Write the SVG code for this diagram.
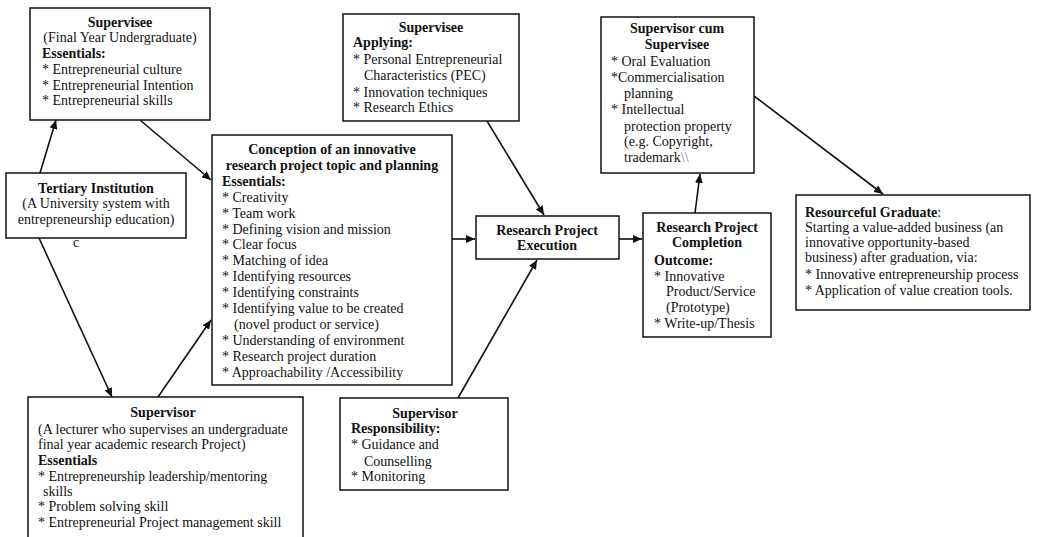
<svg xmlns="http://www.w3.org/2000/svg" width="1042" height="537" viewBox="0 0 1042 537">
<defs>
<style>
.box{fill:#fff;stroke:#111;stroke-width:1.5}
.t{font-family:"Liberation Serif","Times New Roman",serif;font-size:14px;fill:#111}
.b{font-weight:bold}
.c{text-anchor:middle}
.edge{stroke:#111;stroke-width:1.6;fill:none;marker-end:url(#ah)}
</style>
<marker id="ah" markerUnits="userSpaceOnUse" markerWidth="9" markerHeight="8" refX="9" refY="4" orient="auto">
<path d="M0,0 L9,4 L0,8 z" fill="#111"/>
</marker>
</defs>
<rect width="1042" height="537" fill="#fff"/>

<g id="connectors">
<line class="edge" x1="40" y1="173" x2="56" y2="120"/>
<line class="edge" x1="140" y1="120" x2="211" y2="180"/>
<line class="edge" x1="39" y1="238" x2="112" y2="397"/>
<line class="edge" x1="158" y1="397" x2="211" y2="320"/>
<line class="edge" x1="452" y1="239" x2="475" y2="239"/>
<line class="edge" x1="487" y1="121" x2="544" y2="215"/>
<line class="edge" x1="458" y1="398" x2="537" y2="260"/>
<line class="edge" x1="619" y1="239" x2="642" y2="239"/>
<line class="edge" x1="695" y1="213" x2="700" y2="174"/>
<line class="edge" x1="754" y1="96" x2="883" y2="194"/>
</g>

<g id="supervisee">
<rect class="box" x="30" y="8" width="180" height="112"/>
<text class="t b c" x="120" y="27">Supervisee</text>
<text class="t c" x="120" y="42">(Final Year Undergraduate)</text>
<text class="t b" x="42" y="58">Essentials:</text>
<text class="t" x="42" y="74">* Entrepreneurial culture</text>
<text class="t" x="42" y="90">* Entrepreneurial Intention</text>
<text class="t" x="42" y="105">* Entrepreneurial skills</text>
</g>

<g id="tertiary">
<rect class="box" x="6" y="173" width="180" height="65"/>
<text class="t b c" x="96" y="193">Tertiary Institution</text>
<text class="t c" x="96" y="208">(A University system with</text>
<text class="t c" x="96" y="224">entrepreneurship education)</text>
<text class="t" x="73" y="247">c</text>
</g>

<g id="conception">
<rect class="box" x="212" y="135" width="240" height="250"/>
<text class="t b c" x="332" y="154">Conception of an innovative</text>
<text class="t b c" x="332" y="170">research project topic and planning</text>
<text class="t b" x="222" y="186">Essentials:</text>
<text class="t" x="222" y="202">* Creativity</text>
<text class="t" x="222" y="218">* Team work</text>
<text class="t" x="222" y="234">* Defining vision and mission</text>
<text class="t" x="222" y="249">* Clear focus</text>
<text class="t" x="222" y="265">* Matching of idea</text>
<text class="t" x="222" y="281">* Identifying resources</text>
<text class="t" x="222" y="297">* Identifying constraints</text>
<text class="t" x="222" y="313">* Identifying value to be created</text>
<text class="t" x="234" y="329">(novel product or service)</text>
<text class="t" x="222" y="345">* Understanding of environment</text>
<text class="t" x="222" y="361">* Research project duration</text>
<text class="t" x="222" y="377">* Approachability /Accessibility</text>
</g>

<g id="supervisee-applying">
<rect class="box" x="343" y="14" width="176" height="107"/>
<text class="t b c" x="431" y="32">Supervisee</text>
<text class="t b" x="353" y="47">Applying:</text>
<text class="t" x="353" y="64">* Personal Entrepreneurial</text>
<text class="t" x="364" y="80">Characteristics (PEC)</text>
<text class="t" x="353" y="97">* Innovation techniques</text>
<text class="t" x="353" y="112">* Research Ethics</text>
</g>

<g id="supervisor-cum-supervisee">
<rect class="box" x="601" y="17" width="153" height="156"/>
<text class="t b c" x="677" y="33">Supervisor cum</text>
<text class="t b c" x="677" y="49">Supervisee</text>
<text class="t" x="611" y="66">* Oral Evaluation</text>
<text class="t" x="611" y="82">*Commercialisation</text>
<text class="t" x="624" y="98">planning</text>
<text class="t" x="611" y="114">* Intellectual</text>
<text class="t" x="624" y="131">protection property</text>
<text class="t" x="624" y="146">(e.g. Copyright,</text>
<text class="t" x="624" y="162">trademark<tspan fill="#7a7a9a">\\</tspan></text>
</g>

<g id="execution">
<rect class="box" x="476" y="216" width="143" height="43"/>
<text class="t b c" x="547" y="235">Research Project</text>
<text class="t b c" x="547" y="250">Execution</text>
</g>

<g id="completion">
<rect class="box" x="643" y="213" width="128" height="124"/>
<text class="t b c" x="707" y="232">Research Project</text>
<text class="t b c" x="707" y="247">Completion</text>
<text class="t b" x="654" y="265">Outcome:</text>
<text class="t" x="654" y="281">* Innovative</text>
<text class="t" x="666" y="296">Product/Service</text>
<text class="t" x="666" y="312">(Prototype)</text>
<text class="t" x="654" y="328">* Write-up/Thesis</text>
</g>

<g id="resourceful-graduate">
<rect class="box" x="796" y="195" width="234" height="115"/>
<text class="t" x="805" y="217"><tspan class="b">Resourceful Graduate</tspan>:</text>
<text class="t" x="805" y="232">Starting a value-added business (an</text>
<text class="t" x="805" y="247">innovative opportunity-based</text>
<text class="t" x="805" y="262">business) after graduation, via:</text>
<text class="t" x="805" y="279">* Innovative entrepreneurship process</text>
<text class="t" x="805" y="295">* Application of value creation tools.</text>
</g>

<g id="supervisor">
<rect class="box" x="28" y="397" width="275" height="150"/>
<text class="t b c" x="163" y="417">Supervisor</text>
<text class="t" x="38" y="434">(A lecturer who supervises an undergraduate</text>
<text class="t" x="38" y="449">final year academic research Project)</text>
<text class="t b" x="38" y="465">Essentials</text>
<text class="t" x="38" y="481">* Entrepreneurship leadership/mentoring</text>
<text class="t" x="43" y="496">skills</text>
<text class="t" x="38" y="511">* Problem solving skill</text>
<text class="t" x="38" y="527">* Entrepreneurial Project management skill</text>
</g>

<g id="supervisor-responsibility">
<rect class="box" x="340" y="398" width="168" height="92"/>
<text class="t b c" x="425" y="418">Supervisor</text>
<text class="t b" x="351" y="433">Responsibility:</text>
<text class="t" x="351" y="449">* Guidance and</text>
<text class="t" x="364" y="466">Counselling</text>
<text class="t" x="351" y="481">* Monitoring</text>
</g>
</svg>
